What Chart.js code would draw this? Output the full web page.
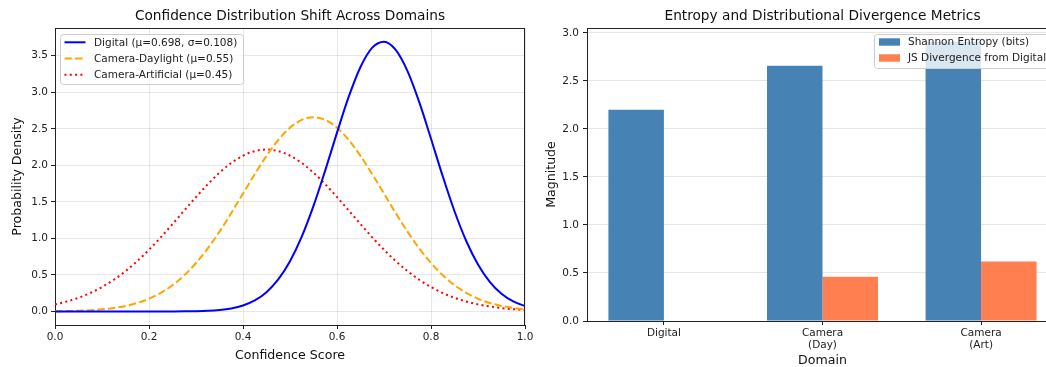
<!DOCTYPE html>
<html>
<head>
<meta charset="utf-8">
<script src="https://cdn.jsdelivr.net/npm/chart.js@4.4.1/dist/chart.umd.min.js"></script>
<style>
html,body{margin:0;padding:0;background:#fff;}
#wrap{position:relative;width:1046px;height:367px;overflow:hidden;background:#fff;}
#c1{position:absolute;left:0;top:0;}
#c2{position:absolute;left:530px;top:0;}
</style>
</head>
<body>
<div id="wrap">
<canvas id="c1" width="545" height="367"></canvas>
<canvas id="c2" width="540" height="367"></canvas>
</div>
<script>
// ---------- data ----------
const scoreX = [0.000,0.025,0.050,0.075,0.100,0.125,0.150,0.175,0.200,0.225,0.250,0.275,0.300,0.325,0.350,0.375,0.400,0.425,0.450,0.475,0.500,0.525,0.550,0.575,0.600,0.625,0.650,0.675,0.700,0.725,0.750,0.775,0.800,0.825,0.850,0.875,0.900,0.925,0.950,0.975,1.000];
const digitalDensity = [0,0,0,0,0,0,0,0,0,0.0001,0.0006,0.0017,0.0042,0.0095,0.0206,0.0422,0.0821,0.1513,0.2645,0.4382,0.6881,1.0240,1.4445,1.9312,2.4474,2.9397,3.3466,3.6112,3.6934,3.5804,3.2897,2.8650,2.3649,1.8502,1.3721,0.9644,0.6424,0.4057,0.2428,0.1377,0.0741];
const daylightDensity = [0.0032,0.0058,0.0103,0.0177,0.0295,0.0480,0.0760,0.1169,0.1748,0.2544,0.3599,0.4954,0.6632,0.8634,1.0934,1.3466,1.6131,1.8794,2.1296,2.3471,2.5159,2.6229,2.6596,2.6229,2.5159,2.3471,2.1296,1.8794,1.6131,1.3466,1.0934,0.8634,0.6632,0.4954,0.3599,0.2544,0.1748,0.1169,0.0760,0.0480,0.0295];
const artificialDensity = [0.0974,0.1365,0.1876,0.2530,0.3346,0.4342,0.5526,0.6899,0.8448,1.0147,1.1955,1.3816,1.5661,1.7414,1.8994,2.0320,2.1324,2.1950,2.2163,2.1950,2.1324,2.0320,1.8994,1.7414,1.5661,1.3816,1.1955,1.0147,0.8448,0.6899,0.5526,0.4342,0.3346,0.2530,0.1876,0.1365,0.0974,0.0682,0.0468,0.0315,0.0208];
const lineLabels = ['Digital (μ=0.698, σ=0.108)','Camera-Daylight (μ=0.55)','Camera-Artificial (μ=0.45)'];
const xTicksLeft = [0.0,0.2,0.4,0.6,0.8,1.0];
const yTicksLeft = [0.0,0.5,1.0,1.5,2.0,2.5,3.0,3.5];

const domains = ['Digital','Camera\n(Day)','Camera\n(Art)'];
const shannonEntropy = [2.20,2.66,2.91];
const jsDivergence = [0.00,0.46,0.62];
const barLabels = ['Shannon Entropy (bits)','JS Divergence from Digital'];
const yTicksRight = [0.0,0.5,1.0,1.5,2.0,2.5,3.0];

// ---------- styling ----------
Chart.defaults.font.family = "'DejaVu Sans', sans-serif";
Chart.defaults.color = '#222';
const GRID = 'rgba(176,176,176,0.3)';
const SPINE = '#222';
const TICKF = {size:10.5};
const LABF = {size:12.6};

function roundRect(ctx,x,y,w,h,r){
  ctx.beginPath();
  ctx.moveTo(x+r,y);ctx.lineTo(x+w-r,y);ctx.arcTo(x+w,y,x+w,y+r,r);
  ctx.lineTo(x+w,y+h-r);ctx.arcTo(x+w,y+h,x+w-r,y+h,r);
  ctx.lineTo(x+r,y+h);ctx.arcTo(x,y+h,x,y+h-r,r);
  ctx.lineTo(x,y+r);ctx.arcTo(x,y,x+r,y,r);ctx.closePath();
}

const framePlugin = {
  id:'framePlugin',
  afterDraw(chart){
    const {ctx, chartArea:a} = chart;
    ctx.save();
    ctx.strokeStyle = SPINE; ctx.lineWidth = 1;
    const t = Math.round(a.top)+0.5, r = Math.round(a.right)-0.5;
    ctx.beginPath(); ctx.moveTo(a.left, t); ctx.lineTo(a.right, t); ctx.stroke();
    ctx.beginPath(); ctx.moveTo(r, a.top); ctx.lineTo(r, a.bottom); ctx.stroke();
    ctx.restore();
  }
};

const legendPlugin = {
  id:'boxLegend',
  afterDraw(chart, args, o){
    if(!o || !o.box) return;
    const ctx = chart.ctx; const b = o.box;
    ctx.save();
    ctx.font = '10.5px "DejaVu Sans"';
    let w = b.w;
    if(!w){
      let mw = 0; chart.data.datasets.forEach(d=>{mw=Math.max(mw,ctx.measureText(d.label).width);});
      w = (b.textX - b.x) + mw + 6;
    }
    roundRect(ctx, b.x+0.5, b.y+0.5, w, b.h, 3);
    ctx.fillStyle = 'rgba(255,255,255,0.8)'; ctx.fill();
    ctx.strokeStyle = '#cccccc'; ctx.lineWidth = 1; ctx.stroke();
    chart.data.datasets.forEach((d,i)=>{
      const y = b.rowY + i*b.rowH;
      if(o.kind==='line'){
        ctx.strokeStyle = d.borderColor; ctx.lineWidth = d.borderWidth;
        ctx.setLineDash(d.borderDash||[]);
        ctx.beginPath(); ctx.moveTo(b.hx, y); ctx.lineTo(b.hx+b.hw, y); ctx.stroke();
        ctx.setLineDash([]);
      } else {
        ctx.fillStyle = d.backgroundColor;
        ctx.fillRect(b.hx, y-3.7, b.hw, 7.4);
      }
      ctx.fillStyle = '#222'; ctx.textBaseline = 'middle'; ctx.textAlign='left';
      ctx.fillText(d.label, b.textX, y+0.5);
    });
    ctx.restore();
  }
};

function fixBox(dim, val){
  return function(s){
    s[dim] = val; s.paddingLeft=0; s.paddingRight=0; s.paddingTop=0; s.paddingBottom=0;
  };
}

// ---------- left chart ----------
function pts(ys){ return scoreX.map((x,i)=>({x:x, y:ys[i]})); }
new Chart(document.getElementById('c1'), {
  type:'line',
  data:{datasets:[
    {label:lineLabels[0], data:pts(digitalDensity), borderColor:'#0000ff', borderWidth:2, pointRadius:0, fill:false, cubicInterpolationMode:'monotone'},
    {label:lineLabels[1], data:pts(daylightDensity), borderColor:'#ffa500', borderWidth:2, borderDash:[7.4,3.2], pointRadius:0, fill:false, cubicInterpolationMode:'monotone'},
    {label:lineLabels[2], data:pts(artificialDensity), borderColor:'#ff0000', borderWidth:2, borderDash:[2,3.3], pointRadius:0, fill:false, cubicInterpolationMode:'monotone'}
  ]},
  options:{
    responsive:false, animation:false, devicePixelRatio:1,
    layout:{padding:{left:0,right:20,top:0,bottom:0}},
    plugins:{
      legend:{display:false}, tooltip:{enabled:false},
      title:{display:true, fullSize:false, text:'Confidence Distribution Shift Across Domains', color:'#111', font:{size:13.7, weight:'normal', lineHeight:1.2}, padding:{top:8,bottom:3.56}},
      boxLegend:{kind:'line', box:{x:60,y:34,w:183,h:50,rowY:42.3,rowH:16.2,hx:64.5,hw:21,textX:94}}
    },
    scales:{
      x:{type:'linear', min:0, max:1,
        afterBuildTicks:s=>{s.ticks = xTicksLeft.map(v=>({value:v}));},
        afterFit:fixBox('height',42),
        ticks:{callback:v=>Number(v).toFixed(1), font:TICKF, color:'#222', padding:2, maxRotation:0, autoSkip:false},
        grid:{color:GRID, tickColor:SPINE, tickLength:4, lineWidth:1},
        border:{color:SPINE, width:1},
        title:{display:true, text:'Confidence Score', font:LABF, color:'#111', padding:{top:0,bottom:3.6}}
      },
      y:{type:'linear', min:-0.185, max:3.88,
        afterBuildTicks:s=>{s.ticks = yTicksLeft.map(v=>({value:v}));},
        afterFit:fixBox('width',55),
        ticks:{callback:v=>Number(v).toFixed(1), font:TICKF, color:'#222', padding:3, autoSkip:false},
        grid:{color:GRID, tickColor:SPINE, tickLength:4, lineWidth:1},
        border:{color:SPINE, width:1},
        title:{display:true, text:'Probability Density', font:LABF, color:'#111', padding:{top:10.4,bottom:0}}
      }
    }
  },
  plugins:[framePlugin, legendPlugin]
});

// ---------- right chart ----------
function barPts(ys){ return ys.map((v,i)=>({x:i, y:v})); }
new Chart(document.getElementById('c2'), {
  type:'bar',
  data:{datasets:[
    {label:barLabels[0], data:barPts(shannonEntropy), backgroundColor:'#4682b4', borderWidth:0, categoryPercentage:0.7, barPercentage:1.0},
    {label:barLabels[1], data:barPts(jsDivergence), backgroundColor:'#ff7f50', borderWidth:0, categoryPercentage:0.7, barPercentage:1.0}
  ]},
  options:{
    responsive:false, animation:false, devicePixelRatio:1,
    layout:{padding:{left:0,right:12,top:0,bottom:0}},
    plugins:{
      legend:{display:false}, tooltip:{enabled:false},
      title:{display:true, fullSize:false, text:'Entropy and Distributional Divergence Metrics', color:'#111', font:{size:13.7, weight:'normal', lineHeight:1.2}, padding:{top:8,bottom:3.56}},
      boxLegend:{kind:'bar', box:{x:344,y:34,w:0,h:34,rowY:42,rowH:16,hx:349,hw:21,textX:378}}
    },
    scales:{
      x:{type:'linear', min:-0.485, max:2.485, offset:false,
        afterBuildTicks:s=>{s.ticks = domains.map((d,i)=>({value:i}));},
        afterFit:fixBox('height',46),
        ticks:{callback:(v)=>{const d=domains[Math.round(v)]; return d? d.split('\n') : '';}, font:{size:10.5, lineHeight:1.15}, color:'#222', padding:2, maxRotation:0, autoSkip:false},
        grid:{offset:false, drawOnChartArea:false, color:GRID, tickColor:SPINE, tickLength:4, lineWidth:1},
        border:{color:SPINE, width:1},
        title:{display:true, text:'Domain', font:{size:12.6, lineHeight:1.0}, color:'#111', padding:{top:0,bottom:0}}
      },
      y:{type:'linear', min:0, max:3.052, z:1,
        afterBuildTicks:s=>{s.ticks = yTicksRight.map(v=>({value:v}));},
        afterFit:fixBox('width',57),
        ticks:{callback:v=>Number(v).toFixed(1), font:TICKF, color:'#222', padding:4, autoSkip:false},
        grid:{color:GRID, tickColor:SPINE, tickLength:4, lineWidth:1},
        border:{color:SPINE, width:1},
        title:{display:true, text:'Magnitude', font:LABF, color:'#111', padding:{top:14.4,bottom:0}}
      }
    }
  },
  plugins:[framePlugin, legendPlugin]
});
</script>
</body>
</html>
